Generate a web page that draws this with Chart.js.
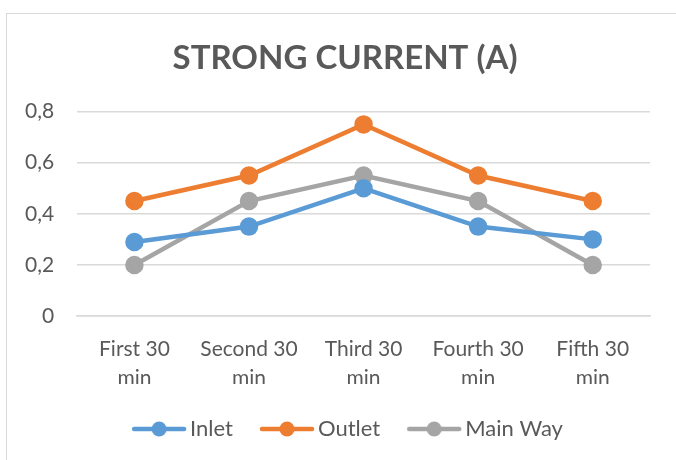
<!DOCTYPE html>
<html>
<head>
<meta charset="utf-8">
<script src="https://cdn.jsdelivr.net/npm/chart.js@4"></script>
<style>
  body { margin: 0; background: #fff; }
  #frame { position: absolute; left: 6px; top: 13px; width: 680px; height: 460px; border: 1.5px solid #d9d9d9; }
  #wrap { position: absolute; left: 0; top: 0; width: 676px; height: 460px; }
</style>
</head>
<body>
<div id="frame"></div>
<div id="wrap"><canvas id="myChart"></canvas></div>
<script>
const categories = [
  ["First 30", "min"],
  ["Second 30", "min"],
  ["Third 30", "min"],
  ["Fourth 30", "min"],
  ["Fifth 30", "min"]
];
const seriesNames = ["Inlet", "Outlet", "Main Way"];
const inlet = [0.29, 0.35, 0.5, 0.35, 0.3];
const outlet = [0.45, 0.55, 0.75, 0.55, 0.45];
const mainWay = [0.2, 0.45, 0.55, 0.45, 0.2];
const lineColors = ["#5b9bd5", "#ed7d31", "#a5a5a5"];

// legend marker: line with a dot in the middle
function legendMark(color) {
  const c = document.createElement("canvas");
  c.width = 56;
  c.height = 16;
  const ctx = c.getContext("2d");
  ctx.strokeStyle = color;
  ctx.lineWidth = 4.5;
  ctx.lineCap = "round";
  ctx.beginPath();
  ctx.moveTo(3, 8);
  ctx.lineTo(53, 8);
  ctx.stroke();
  ctx.fillStyle = color;
  ctx.beginPath();
  ctx.arc(28, 8, 7.5, 0, Math.PI * 2);
  ctx.fill();
  return c;
}

const allValues = [inlet, outlet, mainWay];
const datasets = [];
for (let i = 0; i < seriesNames.length; i++) {
  datasets.push({
    label: seriesNames[i],
    data: allValues[i],
    borderColor: lineColors[i],
    backgroundColor: lineColors[i],
    borderWidth: 4.5,
    pointRadius: 7,
    pointHoverRadius: 7,
    pointStyle: "circle",
    legendMark: legendMark(lineColors[i])
  });
}

const fontFam = "Lato, 'Open Sans', sans-serif";
const textColor = "#595959";

// title and legend sit a bit right of the padded centre in the original
const shiftBoxes = {
  id: "shiftBoxes",
  afterLayout(chart) {
    chart.titleBlock.left += 19;
    chart.titleBlock.right += 19;
    chart.legend.left += 25;
    chart.legend.right += 25;
  }
};

new Chart("myChart", {
  type: "line",
  data: {
    labels: categories,
    datasets: datasets
  },
  plugins: [shiftBoxes],
  options: {
    responsive: true,
    maintainAspectRatio: false,
    animation: false,
    layout: {
      padding: { left: 2, right: 26, top: 39, bottom: 10 }
    },
    plugins: {
      title: {
        display: true,
        text: "STRONG CURRENT (A)",
        color: textColor,
        font: { family: fontFam, size: 33, weight: "bold" },
        padding: { top: 0, bottom: 33 }
      },
      legend: {
        position: "bottom",
        labels: {
          color: textColor,
          font: { family: fontFam, size: 22 },
          usePointStyle: true,
          pointStyleWidth: 40,
          boxHeight: 16,
          padding: 34,
          generateLabels: function (chart) {
            return chart.data.datasets.map(function (ds, i) {
              return {
                text: ds.label,
                fillStyle: ds.borderColor,
                strokeStyle: ds.borderColor,
                fontColor: textColor,
                pointStyle: ds.legendMark,
                datasetIndex: i,
                hidden: false
              };
            });
          }
        }
      },
      tooltip: { enabled: false }
    },
    scales: {
      x: {
        offset: true,
        grid: { display: false },
        border: { color: "#d9d9d9", width: 1.5 },
        afterFit: function (scale) {
          scale.height -= 20;
        },
        ticks: {
          color: textColor,
          font: { family: fontFam, size: 21, lineHeight: 1.38 },
          maxRotation: 0,
          autoSkip: false,
          padding: 11
        }
      },
      y: {
        min: 0,
        max: 0.8,
        grid: { color: "#d9d9d9", lineWidth: 1.5, drawTicks: false },
        border: { display: false },
        ticks: {
          stepSize: 0.2,
          color: textColor,
          font: { family: fontFam, size: 21 },
          padding: 23,
          callback: function (v) {
            return v === 0 ? "0" : v.toFixed(1).replace(".", ",");
          }
        }
      }
    }
  }
});
</script>
</body>
</html>
